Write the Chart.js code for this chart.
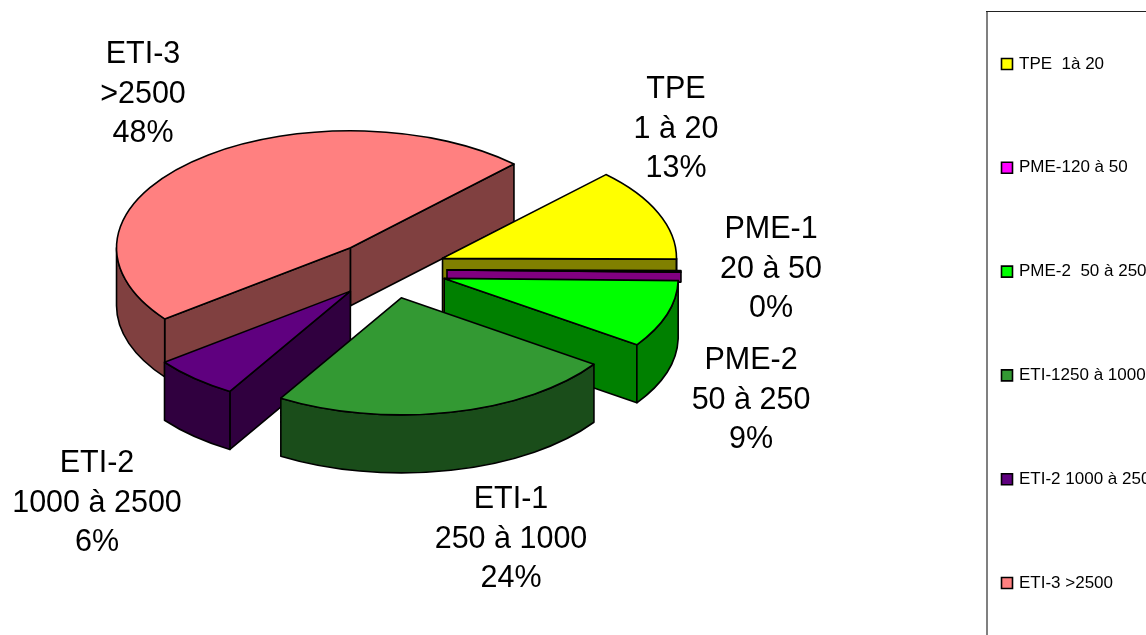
<!DOCTYPE html>
<html lang="fr">
<head>
<meta charset="utf-8">
<title>Répartition par taille</title>
<script src="https://cdn.jsdelivr.net/npm/chart.js@4"></script>
<style>
  html, body { margin: 0; padding: 0; background: #fff; overflow: hidden; }
  canvas { display: block; }
</style>
</head>
<body>
<canvas id="pie3d" width="1146" height="635"></canvas>
<script>
// ==== Data ====
const legendLabels = ["TPE  1à 20", "PME-120 à 50", "PME-2  50 à 250", "ETI-1250 à 1000", "ETI-2 1000 à 2500", "ETI-3 >2500"];
const sliceNames = ["TPE", "PME-1", "PME-2", "ETI-1", "ETI-2", "ETI-3"];
const sliceRanges = ["1 à 20", "20 à 50", "50 à 250", "250 à 1000", "1000 à 2500", ">2500"];
const sliceValues = [12.8, 0.2, 9.3, 24, 6, 47.7];

// ==== Styles ====
const topColors = ["#ffff00", "#ff00ff", "#00ff00", "#339933", "#5f007f", "#ff8080"];
const wallColors = ["#808000", "#800080", "#008000", "#1a4d1a", "#30003f", "#804040"];
const FONT = '"Liberation Sans", Arial, sans-serif';
const pieX = 389, pieY = 269.5, pieRadius = 234, squash = 0.5, depth = 58, explode = 58;
const thinSlice = 0.05, thinWallDepth = 10;
const labelFontSize = 30.5, labelLineHeight = 39.5;
// centre of the first line of each data label
const labelAnchors = [[676, 90], [771, 230], [751, 361], [511, 500], [97, 464], [143, 55]];

// slice pulled out along its middle angle, same distance for all of them
function sliceGeometry(el) {
  const mid = (el.startAngle + el.endAngle) / 2;
  return {
    cx: Math.cos(mid) * explode,
    cy: Math.sin(mid) * explode,
    r: el.outerRadius,
    start: el.startAngle,
    end: el.endAngle
  };
}

// flat pie space -> screen
const sx = x => pieX + x;
const sy = y => pieY + y * squash;

function strokeCurrent(ctx) {
  ctx.lineWidth = 1.6;
  ctx.lineJoin = "round";
  ctx.strokeStyle = "#000";
  ctx.stroke();
}

function drawCutWall(ctx, g, angle, color, wallDepth) {
  const ex = g.cx + Math.cos(angle) * g.r;
  const ey = g.cy + Math.sin(angle) * g.r;
  ctx.beginPath();
  ctx.moveTo(sx(g.cx), sy(g.cy));
  ctx.lineTo(sx(ex), sy(ey));
  ctx.lineTo(sx(ex), sy(ey) + wallDepth);
  ctx.lineTo(sx(g.cx), sy(g.cy) + wallDepth);
  ctx.closePath();
  ctx.fillStyle = color;
  ctx.fill();
  strokeCurrent(ctx);
}

function drawRimWall(ctx, g, color) {
  // only the front half of the rim faces the viewer
  let from = g.start, to = g.end;
  while (from > Math.PI) { from -= 2 * Math.PI; to -= 2 * Math.PI; }
  while (to < 0) { from += 2 * Math.PI; to += 2 * Math.PI; }
  from = Math.max(from, 0);
  to = Math.min(to, Math.PI);
  if (to <= from) return;
  const ex = a => sx(g.cx + Math.cos(a) * g.r);
  const ey = a => sy(g.cy + Math.sin(a) * g.r);
  ctx.beginPath();
  ctx.ellipse(sx(g.cx), sy(g.cy), g.r, g.r * squash, 0, from, to);
  ctx.lineTo(ex(to), ey(to) + depth);
  ctx.ellipse(sx(g.cx), sy(g.cy) + depth, g.r, g.r * squash, 0, to, from, true);
  ctx.closePath();
  ctx.fillStyle = color;
  ctx.fill();
  strokeCurrent(ctx);
}

const pie3dPlugin = {
  id: "pie3d",
  beforeDraw(chart) {
    const ctx = chart.ctx;
    // legend frame runs off the page, right and bottom
    ctx.save();
    ctx.beginPath();
    ctx.moveTo(987, 640);
    ctx.lineTo(987, 11);
    ctx.strokeStyle = "#808080";
    ctx.lineWidth = 2;
    ctx.stroke();
    ctx.beginPath();
    ctx.moveTo(986, 11.5);
    ctx.lineTo(1146, 11.5);
    ctx.strokeStyle = "#222";
    ctx.lineWidth = 1;
    ctx.stroke();
    ctx.restore();

    // legend sits at fixed place, items spread over the page height
    const legend = chart.legend;
    const pad = legend.options.labels.padding;
    legend.left = 1003.5 - pad;
    legend.right = 1400;
    legend.top = 55.5 - pad;
    legend.bottom = 1000;
  },
  beforeDatasetsDraw(chart) {
    const ctx = chart.ctx;
    const arcs = chart.getDatasetMeta(0).data;
    const order = arcs.map((el, i) => i)
      .sort((a, b) => sliceGeometry(arcs[a]).cy - sliceGeometry(arcs[b]).cy);

    order.forEach(i => {
      const el = arcs[i];
      const g = sliceGeometry(el);
      // the sliver of PME-1 only shows as a band above PME-2
      const thin = g.end - g.start < thinSlice;
      const wallDepth = thin ? thinWallDepth : depth;

      // ==== Walls ====
      if (-Math.cos(g.start) > 0) drawCutWall(ctx, g, g.start, wallColors[i], wallDepth);
      if (Math.cos(g.end) > 0) drawCutWall(ctx, g, g.end, wallColors[i], wallDepth);
      if (!thin) drawRimWall(ctx, g, wallColors[i]);

      // ==== Top face, squashed ====
      ctx.save();
      ctx.translate(sx(g.cx), sy(g.cy));
      ctx.scale(1, squash);
      ctx.translate(-el.x, -el.y);
      el.draw(ctx);
      ctx.restore();

      ctx.beginPath();
      ctx.moveTo(sx(g.cx), sy(g.cy));
      ctx.ellipse(sx(g.cx), sy(g.cy), g.r, g.r * squash, 0, g.start, g.end);
      ctx.closePath();
      strokeCurrent(ctx);
    });
    return false;
  },
  afterDraw(chart) {
    const ctx = chart.ctx;
    ctx.save();
    ctx.font = labelFontSize + "px " + FONT;
    ctx.fillStyle = "#000";
    ctx.textAlign = "center";
    ctx.textBaseline = "middle";
    sliceNames.forEach((name, i) => {
      const [x, y] = labelAnchors[i];
      ctx.fillText(name, x, y);
      ctx.fillText(sliceRanges[i], x, y + labelLineHeight);
      ctx.fillText(Math.round(sliceValues[i]) + "%", x, y + 2 * labelLineHeight);
    });
    ctx.restore();
  }
};

new Chart(document.getElementById("pie3d").getContext("2d"), {
  type: "pie",
  data: {
    labels: legendLabels,
    datasets: [{
      data: sliceValues,
      backgroundColor: topColors,
      borderWidth: 0,
      radius: pieRadius
    }]
  },
  options: {
    responsive: false,
    animation: false,
    rotation: 44.3,
    plugins: {
      tooltip: { enabled: false },
      legend: {
        position: "right",
        align: "start",
        labels: {
          padding: 86.8,
          color: "#000",
          font: { family: FONT, size: 17 },
          usePointStyle: true,
          pointStyle: "rect",
          boxWidth: 7,
          boxHeight: 11,
          generateLabels(chart) {
            return Chart.overrides.pie.plugins.legend.labels.generateLabels(chart).map(item => ({
              ...item,
              strokeStyle: "#000",
              lineWidth: 1.6
            }));
          }
        }
      }
    }
  },
  plugins: [pie3dPlugin]
});
</script>
</body>
</html>
